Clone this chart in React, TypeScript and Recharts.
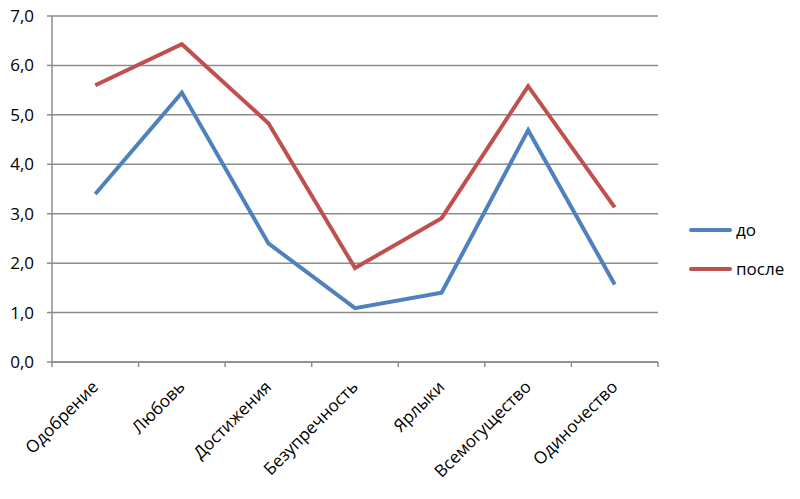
import React from 'react'
import { LineChart, Line, XAxis, YAxis, CartesianGrid, Legend } from 'recharts'

const categories = [
  'Одобрение',
  'Любовь',
  'Достижения',
  'Безупречность',
  'Ярлыки',
  'Всемогущество',
  'Одиночество',
]
const before = [3.4, 5.45, 2.4, 1.09, 1.4, 4.69, 1.57]
const after = [5.6, 6.43, 4.83, 1.9, 2.91, 5.58, 3.13]
const yTicks = [0, 1, 2, 3, 4, 5, 6, 7]

const BLUE = '#4f81bd'
const RED = '#c0504d'
const GRID = '#8c8c8c'
const FONT = '"Open Sans", sans-serif'
const LEGEND_W = 110

const data = categories.map((name, idx) => ({
  idx,
  name,
  before: before[idx],
  after: after[idx],
}))

// tick marks sit between categories, labels under each category
const xTicks: number[] = []
for (let i = 0; i <= categories.length; i++) {
  xTicks.push(i - 0.5)
  if (i < categories.length) xTicks.push(i)
}

function CategoryTick(props: any) {
  const { x, y, payload } = props
  const v = payload.value
  if (!Number.isInteger(v)) {
    return <line x1={x} x2={x} y1={y} y2={y + 5} stroke={GRID} strokeWidth={1.5} />
  }
  return (
    <g transform={`translate(${x + 4},${y + 26})`}>
      <text
        x={0}
        y={0}
        transform="rotate(-45)"
        textAnchor="end"
        fill="#000"
        fontSize={17}
        fontFamily={FONT}
      >
        {categories[v]}
      </text>
    </g>
  )
}

function LegendBox() {
  const items = [
    { label: 'до', color: BLUE },
    { label: 'после', color: RED },
  ]
  return (
    <div style={{ fontFamily: FONT, fontSize: 17, color: '#000' }}>
      {items.map((it) => (
        <div key={it.label} style={{ display: 'flex', alignItems: 'center', height: 39 }}>
          <span
            style={{
              width: 43,
              height: 4,
              borderRadius: 2,
              backgroundColor: it.color,
              marginRight: 4,
            }}
          />
          <span>{it.label}</span>
        </div>
      ))}
    </div>
  )
}

export default function App() {
  return (
    <div style={{ position: 'absolute', left: 0, top: 0, background: '#fff' }}>
      <LineChart
        width={800}
        height={499}
        data={data}
        margin={{ top: 16, right: 142 - LEGEND_W, bottom: 0, left: 0 }}
      >
        <CartesianGrid vertical={false} stroke={GRID} strokeWidth={1.5} />
        <XAxis
          dataKey="idx"
          type="number"
          domain={[-0.5, 6.5]}
          ticks={xTicks}
          interval={0}
          height={137}
          tickLine={false}
          tickSize={0}
          tickMargin={0}
          axisLine={{ stroke: GRID, strokeWidth: 1.5 }}
          tick={<CategoryTick />}
        />
        <YAxis
          domain={[0, 7]}
          ticks={yTicks}
          width={52}
          tickSize={5}
          tickMargin={13}
          axisLine={{ stroke: GRID, strokeWidth: 1.5 }}
          tickLine={{ stroke: GRID, strokeWidth: 1.5 }}
          tick={{ fill: '#000', fontSize: 17, fontFamily: FONT }}
          tickFormatter={(v: number) => v.toFixed(1).replace('.', ',')}
        />
        <Legend
          layout="horizontal"
          verticalAlign="middle"
          align="right"
          content={<LegendBox />}
          wrapperStyle={{ left: 689, top: 210, width: LEGEND_W }}
        />
        <Line
          dataKey="before"
          name="до"
          stroke={BLUE}
          strokeWidth={4}
          dot={false}
          isAnimationActive={false}
        />
        <Line
          dataKey="after"
          name="после"
          stroke={RED}
          strokeWidth={4}
          dot={false}
          isAnimationActive={false}
        />
      </LineChart>
    </div>
  )
}
